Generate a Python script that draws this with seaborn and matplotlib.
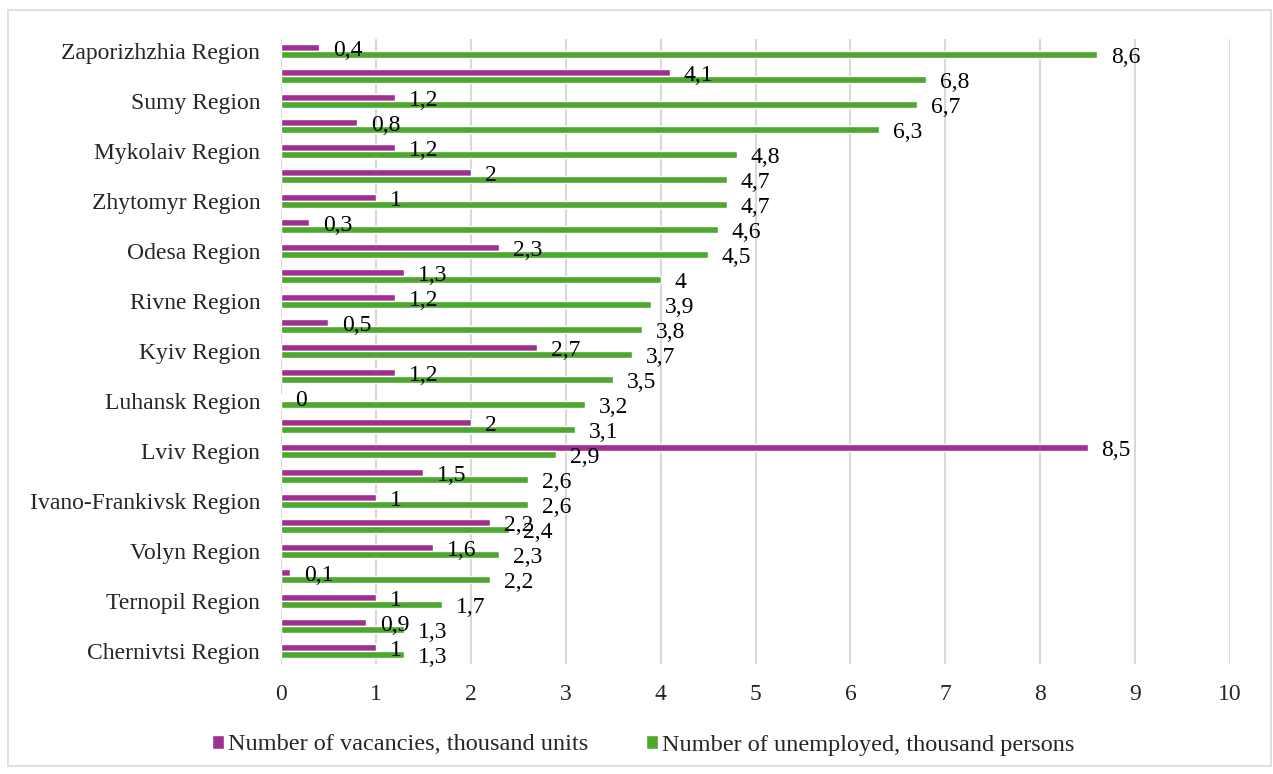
import matplotlib
matplotlib.use("Agg")
import matplotlib.pyplot as plt
import seaborn as sns
import pandas as pd
from matplotlib.patches import Rectangle

# Regions listed top to bottom; blank entries are rows whose axis label is not shown
regions = [
    "Zaporizhzhia Region", "", "Sumy Region", "", "Mykolaiv Region", "",
    "Zhytomyr Region", "", "Odesa Region", "", "Rivne Region", "",
    "Kyiv Region", "", "Luhansk Region", "", "Lviv Region", "",
    "Ivano-Frankivsk Region", "", "Volyn Region", "", "Ternopil Region", "",
    "Chernivtsi Region",
]
vacancies = [0.4, 4.1, 1.2, 0.8, 1.2, 2, 1, 0.3, 2.3, 1.3, 1.2, 0.5, 2.7, 1.2,
             0, 2, 8.5, 1.5, 1, 2.2, 1.6, 0.1, 1, 0.9, 1]
unemployed = [8.6, 6.8, 6.7, 6.3, 4.8, 4.7, 4.7, 4.6, 4.5, 4, 3.9, 3.8, 3.7, 3.5,
              3.2, 3.1, 2.9, 2.6, 2.6, 2.4, 2.3, 2.2, 1.7, 1.3, 1.3]
series_names = ["Number of vacancies, thousand units",
                "Number of unemployed, thousand persons"]
x_ticks = list(range(0, 11))

PURPLE = "#A0308F"
GREEN = "#4EA72E"
FS = 17

rows = []
for i in range(len(regions)):
    rows.append({"row": f"r{i:02d}", "series": series_names[0], "value": vacancies[i]})
    rows.append({"row": f"r{i:02d}", "series": series_names[1], "value": unemployed[i]})
df = pd.DataFrame(rows)
order = [f"r{i:02d}" for i in range(len(regions))]

sns.set_style("white")
plt.rcParams["font.family"] = ["Liberation Serif", "DejaVu Serif"]

fig = plt.figure(figsize=(12.73, 7.74), dpi=100)
ax = fig.add_axes([281 / 1273, 1 - 663.5 / 774, (1230 - 281) / 1273, 625 / 774])

sns.barplot(data=df, x="value", y="row", hue="series", order=order,
            hue_order=series_names, palette=[PURPLE, GREEN], orient="h",
            width=0.56, saturation=1, ax=ax, legend=True)

# value labels just past each bar end, in decimal-comma notation
for container in ax.containers:
    for bar, v in zip(container, container.datavalues):
        ax.annotate(f"{v:g}".replace(".", ","),
                    xy=(bar.get_width(), bar.get_y() + bar.get_height() / 2),
                    xytext=(10, -2), textcoords="offset points",
                    ha="left", va="center", fontsize=FS, color="black")

ax.set_xlim(0, 10)
ax.set_xticks(x_ticks)
ax.set_xticklabels([str(t) for t in x_ticks], fontsize=FS)
ax.set_yticks(range(len(regions)))
ax.set_yticklabels(regions, fontsize=FS)
ax.set_ylim(len(regions) - 0.5, -0.5)
ax.set_xlabel("")
ax.set_ylabel("")
ax.tick_params(axis="both", length=0)
ax.tick_params(axis="y", pad=15)
ax.tick_params(axis="x", pad=15)
ax.grid(axis="x", color="#D9D9D9", linewidth=1.5)
ax.set_axisbelow(True)
for s in ax.spines.values():
    s.set_visible(False)

handles, labels = ax.get_legend_handles_labels()
ax.legend_.remove()
fig.legend(handles, labels, loc="center", bbox_to_anchor=(643 / 1273, 1 - 745 / 774),
           ncol=2, frameon=False, fontsize=17.5, handlelength=0.5, handleheight=0.5,
           handletextpad=0.15, columnspacing=2.4)

fig.patches.append(Rectangle((8 / 1273, 1 - 766 / 774), (1271 - 8) / 1273, (766 - 10) / 774,
                             transform=fig.transFigure, fill=False,
                             edgecolor="#D9D9D9", linewidth=1.2))

fig.savefig("out.png", dpi=100)
